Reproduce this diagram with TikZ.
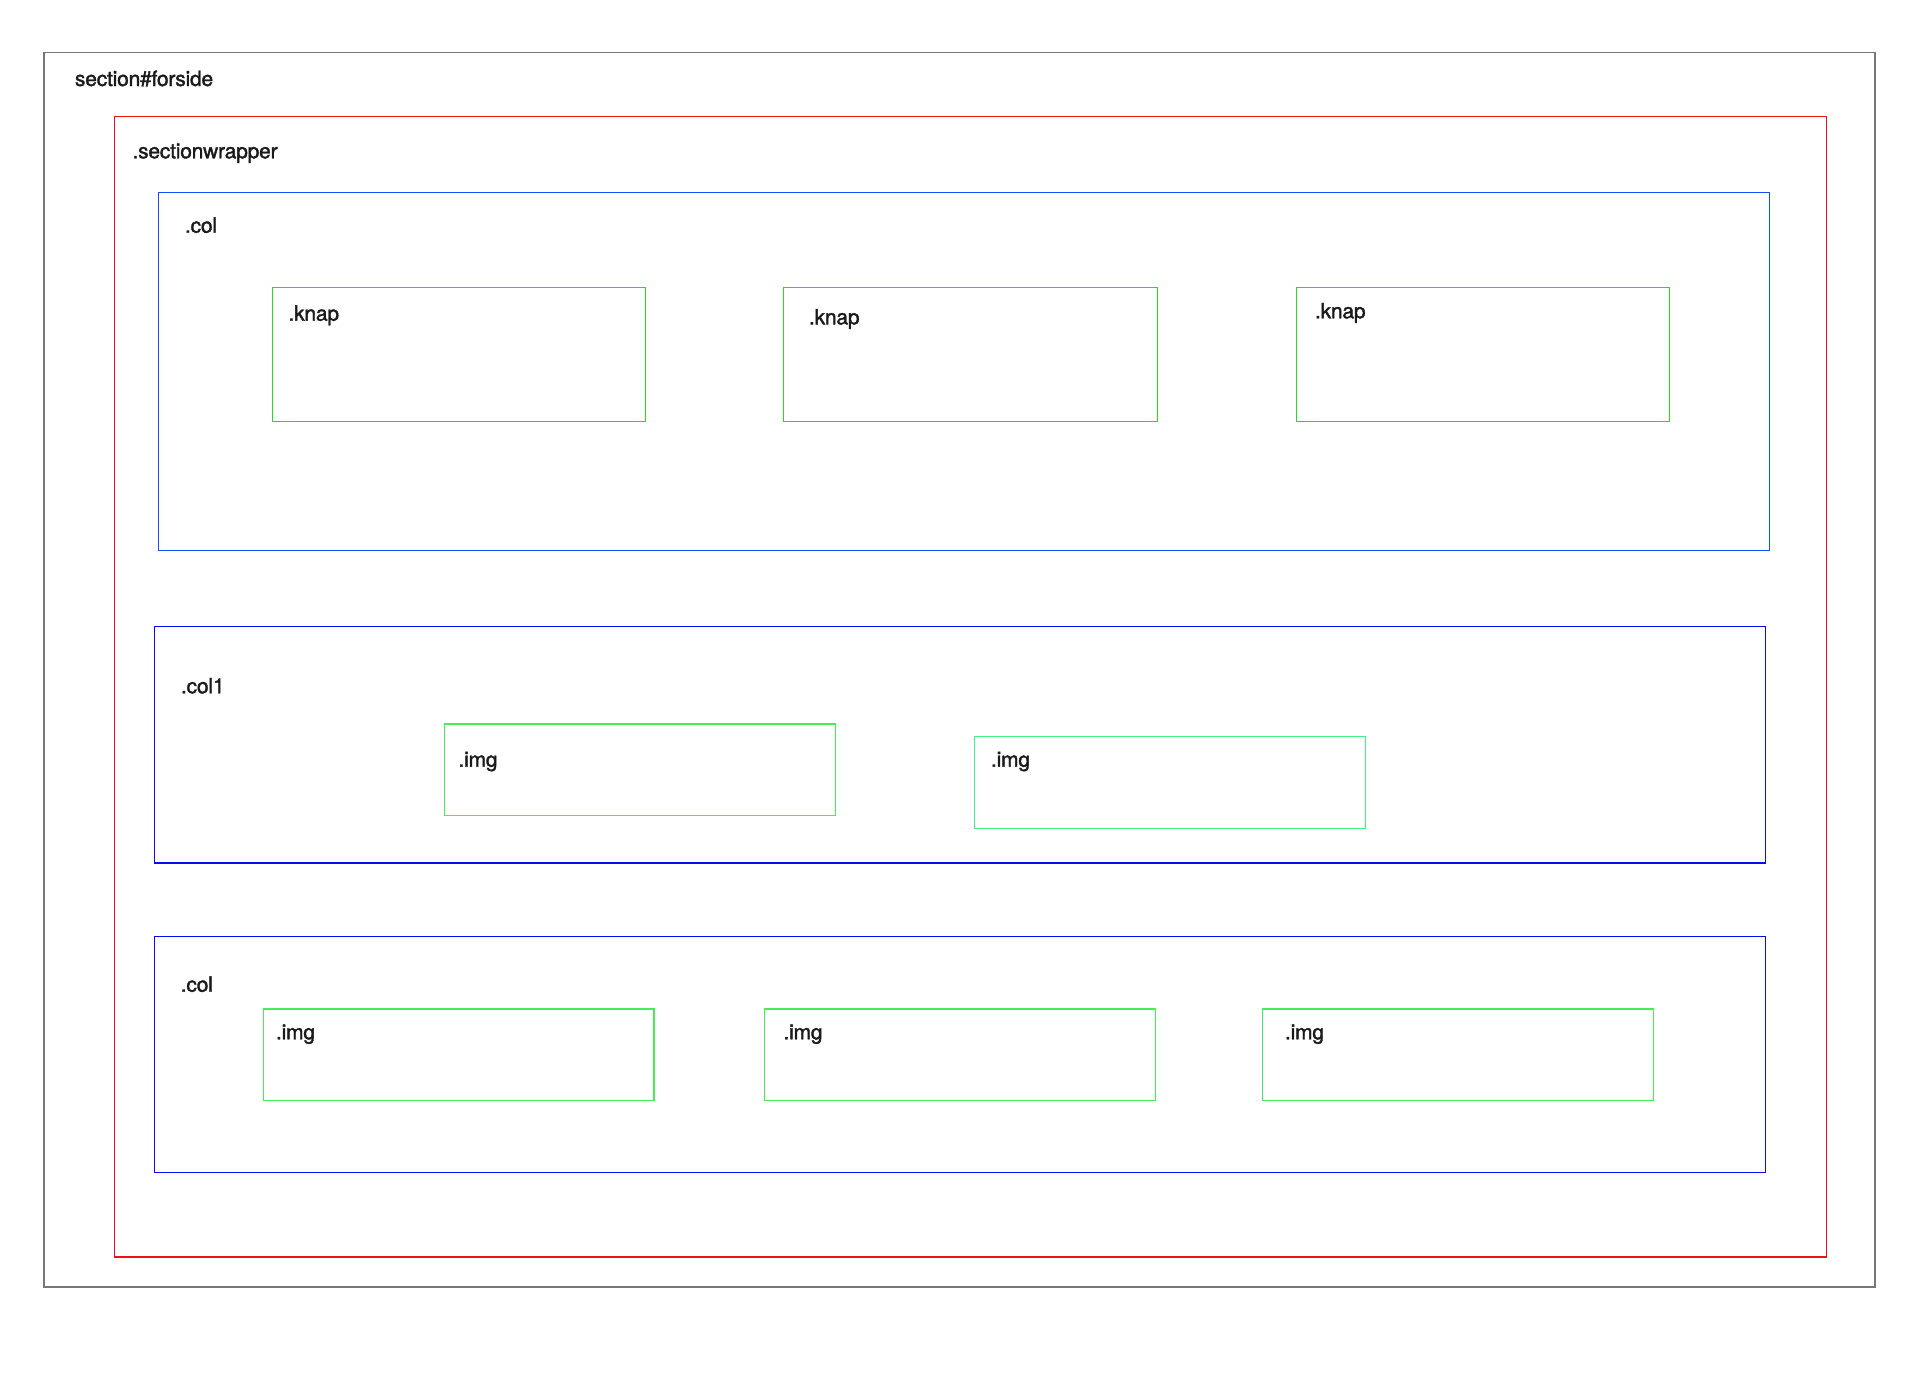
\documentclass[tikz,border=0pt]{standalone}
\usepackage{fontspec}
\setmainfont{TeX Gyre Heros}[FakeBold=1.6, LetterSpace=-1.0]
\usetikzlibrary{fit}

\definecolor{framegray}{HTML}{777777}
\definecolor{wrapred}{HTML}{EE1111}
\definecolor{colblue}{HTML}{1050F5}
\definecolor{colblueb}{HTML}{0A0AEE}
\definecolor{knapgreen}{HTML}{22DD22}
\definecolor{imggreen}{HTML}{44EE55}
\definecolor{imgmint}{HTML}{44EE88}
\definecolor{labeltext}{HTML}{1A1A1A}

\tikzset{
  region/.style={draw=#1, line width=0.65pt, inner sep=0pt, outer sep=0pt, rectangle},
  lbl/.style={anchor=base west, inner sep=0pt, outer sep=0pt, text=labeltext,
              font=\fontsize{10.5pt}{12pt}\selectfont},
}

\begin{document}
\begin{tikzpicture}[x=0.5pt, y=-0.5pt]
  % canvas
  \useasboundingbox[fill=white] (0,0) rectangle (1920,1397);

  % outer section
  \node[region=framegray, fit={(44,52.3) (1875,1287)}] (forside) {};
  \node[lbl] (forsideLbl) at (75,86) {section\#forside};

  % wrapper
  \node[region=wrapred, fit={(114.3,116.3) (1826.3,1257)}] (wrapper) {};
  \node[lbl] (wrapperLbl) at (132.5,158.3) {.sectionwrapper};

  % first column with the three buttons
  \node[region=colblue, fit={(158.3,192.3) (1769.3,550.3)}] (colA) {};
  \node[lbl] (colALbl) at (185,232.7) {.col};

  \node[region=knapgreen, fit={(272.3,287.3) (645.3,421.3)}] (knapA) {};
  \node[lbl] (knapALbl) at (288.5,320.7) {.knap};
  \node[region=knapgreen, fit={(783.7,287.3) (1157.2,421.3)}] (knapB) {};
  \node[lbl] (knapBLbl) at (809,324.4) {.knap};
  \node[region=knapgreen, fit={(1296.3,287.3) (1669.3,421.3)}] (knapC) {};
  \node[lbl] (knapCLbl) at (1315,318.3) {.knap};

  % second column with two images
  \node[region=colblueb, fit={(154.3,626.3) (1765.3,863)}] (colB) {};
  \node[lbl] (colBLbl) at (181,693.3) {.col1};

  \node[region=imggreen, fit={(444.3,724) (835.3,815.7)}] (imgA) {};
  \node[lbl] (imgALbl) at (458.5,766.7) {.img};
  \node[region=imgmint, fit={(974.3,736.7) (1365.7,828.7)}] (imgB) {};
  \node[lbl] (imgBLbl) at (991,766.7) {.img};

  % third column with three images
  \node[region=colblueb, fit={(154.3,936.3) (1765.3,1172.7)}] (colC) {};
  \node[lbl] (colCLbl) at (180.8,991.7) {.col};

  \node[region=imggreen, fit={(263.3,1009) (654,1100.7)}] (imgC) {};
  \node[lbl] (imgCLbl) at (276,1039.3) {.img};
  \node[region=imggreen, fit={(764.3,1009) (1155.3,1100.7)}] (imgD) {};
  \node[lbl] (imgDLbl) at (783.5,1039.3) {.img};
  \node[region=imggreen, fit={(1262.3,1009) (1653.5,1100.7)}] (imgE) {};
  \node[lbl] (imgELbl) at (1285,1039.3) {.img};
\end{tikzpicture}
\end{document}
